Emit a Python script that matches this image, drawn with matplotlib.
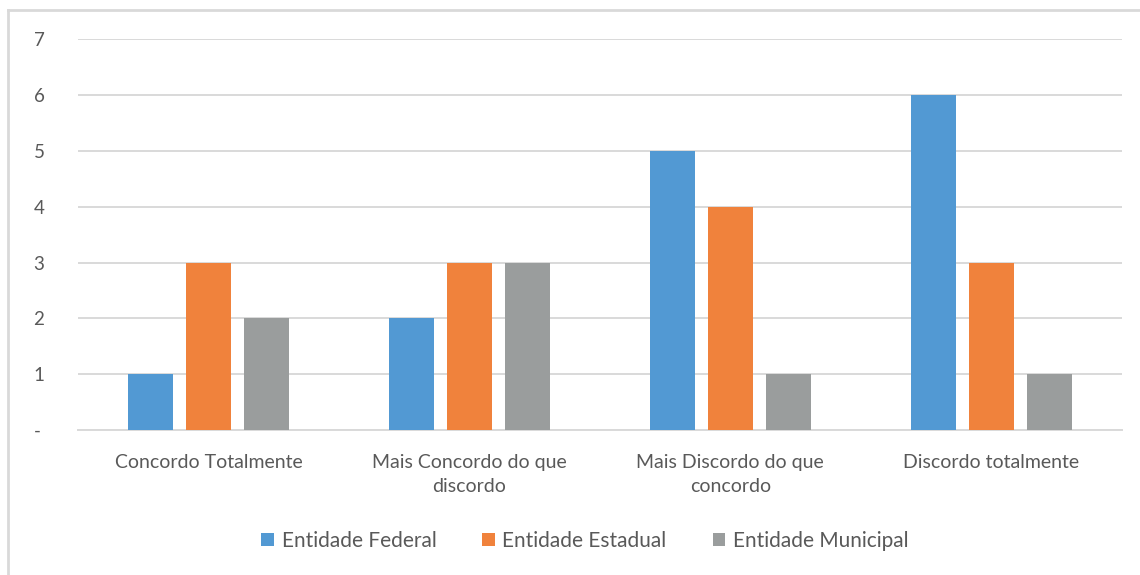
import numpy as np
import matplotlib.pyplot as plt
from matplotlib.lines import Line2D

# data
categories = ["Concordo Totalmente", "Mais Concordo do que\ndiscordo",
              "Mais Discordo do que\nconcordo", "Discordo totalmente"]
series_names = ["Entidade Federal", "Entidade Estadual", "Entidade Municipal"]
federal = [1, 2, 5, 6]
estadual = [3, 3, 4, 3]
municipal = [2, 3, 1, 1]
y_ticks = [0, 1, 2, 3, 4, 5, 6, 7]
y_ticklabels = ["-", "1", "2", "3", "4", "5", "6", "7"]

colors = ["#5299d3", "#f0823c", "#9a9d9d"]
text_color = "#595959"
grid_color = "#d9d9d9"

plt.rcParams['font.family'] = ['Lato', 'DejaVu Sans']

fig = plt.figure(figsize=(11.4, 5.75), dpi=100)
ax = fig.add_axes([0.0684, 0.252, 0.9156, 0.68])

x = np.arange(len(categories))
width = 0.172
step = 0.222
for i, (vals, name) in enumerate(zip([federal, estadual, municipal], series_names)):
    ax.bar(x + (i - 1) * step, vals, width, color=colors[i], label=name, zorder=3)

ax.set_xlim(-0.5, len(categories) - 0.5)
ax.set_ylim(0, 7)
ax.set_yticks(y_ticks)
ax.set_yticklabels(y_ticklabels, fontsize=13.5, color=text_color)
ax.set_xticks(x)
ax.set_xticklabels(categories, fontsize=14, color=text_color, linespacing=1.55)
ax.tick_params(axis='both', length=0)
ax.tick_params(axis='y', pad=32)
ax.tick_params(axis='x', pad=17)
ax.yaxis.grid(True, color=grid_color, linewidth=1.4, zorder=0)
for side in ['top', 'right', 'left']:
    ax.spines[side].set_visible(False)
ax.spines['bottom'].set_color(grid_color)
ax.spines['bottom'].set_linewidth(1.4)
for lab in ax.get_yticklabels():
    lab.set_horizontalalignment('left')

fig.legend(loc='center', bbox_to_anchor=(0.513, 0.059), ncol=3, frameon=False,
           fontsize=15, labelcolor=text_color, handlelength=0.62, handleheight=0.62,
           handletextpad=0.35, columnspacing=2.2)

# chart area border (top and left visible)
fig.add_artist(Line2D([8 / 1140, 8 / 1140], [0, 1 - 10 / 575], color=grid_color,
                      linewidth=2, transform=fig.transFigure))
fig.add_artist(Line2D([8 / 1140, 1], [1 - 10 / 575, 1 - 10 / 575], color=grid_color,
                      linewidth=2, transform=fig.transFigure))

fig.savefig("out.png", dpi=100)
